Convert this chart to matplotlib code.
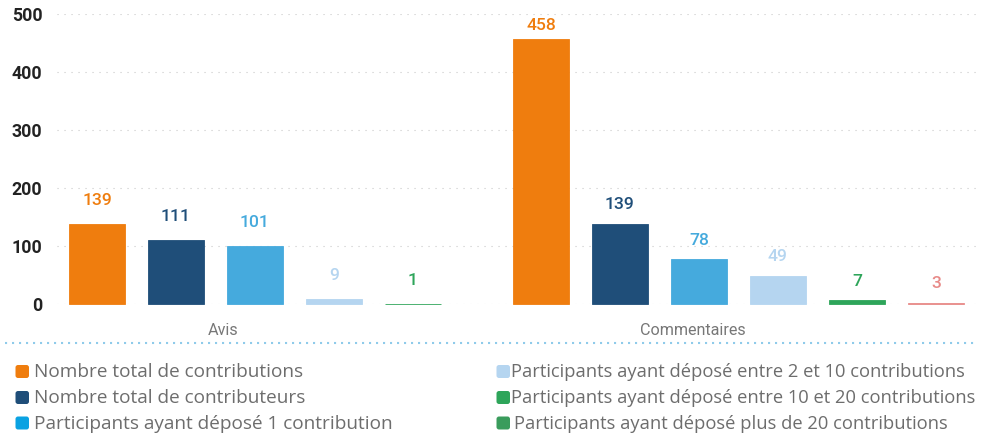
import numpy as np
import matplotlib
matplotlib.use("Agg")
import matplotlib.pyplot as plt
from matplotlib.patches import FancyBboxPatch

# ---------------- data ----------------
categories = ["Avis", "Commentaires"]
avis_values = [139, 111, 101, 9, 1]
commentaires_values = [458, 139, 78, 49, 7, 3]
bar_colors = ["#ef7d0e", "#1f4e79", "#45aadd", "#b5d5f0", "#2ea55a", "#e88a88"]
legend_labels = [
    "Nombre total de contributions",
    "Nombre total de contributeurs",
    "Participants ayant déposé 1 contribution",
    "Participants ayant déposé entre 2 et 10 contributions",
    "Participants ayant déposé entre 10 et 20 contributions",
    "Participants ayant déposé plus de 20 contributions",
]
legend_colors = ["#ef7d0e", "#1f4e79", "#0aa2e2", "#b5d5f0", "#2ea55a", "#3a9c5c"]
y_ticks = [0, 100, 200, 300, 400, 500]

# ---------------- figure ----------------
W, H = 989, 438
fig = plt.figure(figsize=(W / 100, H / 100), dpi=100)
ax = fig.add_axes([57 / W, 1 - 304.3 / H, (977 - 57) / W, (304.3 - 14.3) / H])

comm_start = 5.62
avis_x = np.arange(len(avis_values))
comm_x = comm_start + np.arange(len(commentaires_values))
bar_w = 0.70

ax.set_xlim(-0.506, 11.14)
ax.set_ylim(0, 500)

for g, (xs, vals, off) in enumerate([(avis_x, avis_values, 33),
                                      (comm_x, commentaires_values, 25)]):
    for i, (x, v) in enumerate(zip(xs, vals)):
        ax.bar(x, v, width=bar_w, color=bar_colors[i], edgecolor=bar_colors[i],
               linewidth=0.6, zorder=3, clip_on=False)
        ly = min(v + off, 473)
        ax.text(x, ly, str(v), ha="center", va="baseline",
                color=bar_colors[i], fontsize=12.6, fontfamily="Roboto",
                fontweight="medium", zorder=4)

# grid
for t in y_ticks:
    ax.axhline(t, color="#c9c9c9", lw=0.8, linestyle=(0, (1, 5.3)), zorder=1)

ax.set_yticks(y_ticks)
ax.set_yticklabels([str(t) for t in y_ticks], fontfamily="Roboto",
                   fontweight="bold", fontsize=12.8, color="#222222")
ax.tick_params(axis="y", length=0, pad=10.5)

ax.set_xticks([1.6, comm_start + 1.92])
ax.set_xticklabels(categories, fontfamily="Roboto", fontsize=11.6, color="#777777")
ax.tick_params(axis="x", length=0, pad=13.4)

for s in ax.spines.values():
    s.set_visible(False)

# ---------------- legend ----------------
lax = fig.add_axes([0, 0, 1, 1])
lax.set_xlim(0, W)
lax.set_ylim(H, 0)
lax.axis("off")

lax.plot([5, 978], [343, 343], color="#8fcbea", lw=1.5,
         linestyle=(0, (1, 2.36)), solid_capstyle="butt")

baselines = [377.3, 403.0, 428.7]
sq_tops = [365, 391, 416.5]
col_sq_x = [15.5, 496.5]
col_text_x = [34, 511]
col_font = [13.7, 13.2]
for k, (lab, col) in enumerate(zip(legend_labels, legend_colors)):
    c, r = divmod(k, 3)
    sq = FancyBboxPatch((col_sq_x[c] + 1.5, sq_tops[r] + 1.5), 10.5, 10.0,
                        boxstyle="round,pad=1.5,rounding_size=2.5",
                        facecolor=col, edgecolor="none")
    lax.add_patch(sq)
    tx = col_text_x[c] + (3 if k == 5 else 0)
    lax.text(tx, baselines[r], lab, ha="left", va="baseline",
             fontfamily="Open Sans", fontsize=col_font[c], color="#6d6d6d")

fig.savefig("out.png", dpi=100)
